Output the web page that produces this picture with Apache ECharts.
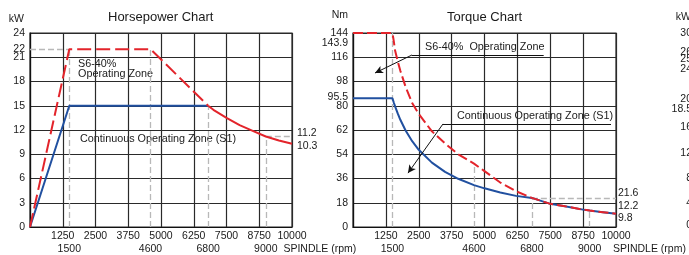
<!DOCTYPE html>
<html>
<head>
<meta charset="utf-8">
<script src="https://cdn.jsdelivr.net/npm/echarts@6/dist/echarts.min.js"></script>
<style>
  html, body { margin: 0; padding: 0; background: #fff; }
  #chart { width: 689px; height: 255px; }
</style>
</head>
<body>
<div id="chart"></div>
<script>
// 转速刻度
const rpmTicks = [1250, 2500, 3750, 5000, 6250, 7500, 8750, 10000];
const rpmMarks = [1500, 4600, 6800, 9000];

// 功率图 (kW)
const hpS6Dashed = [[0, 0], [1500, 22], [4600, 22], [6800, 15]];
const hpS6Solid = [[6800, 15], [7000, 14.5], [7500, 13.5], [8000, 12.6], [8500, 11.9], [9000, 11.2], [9500, 10.7], [10000, 10.3]];
const hpS1 = [[0, 0], [1500, 15], [6800, 15]];

// 扭矩图 (Nm)
const tqS6 = [[0, 144], [1500, 144], [1550, 138], [1600, 131], [1700, 123], [1800, 116], [2000, 104], [2250, 92], [2500, 84],
  [3000, 71], [3500, 62], [4000, 54], [4600, 47], [5000, 41.5], [5600, 33], [6200, 26.5], [6800, 21.6],
  [7500, 17.2], [8000, 15.6], [8750, 12.9], [9000, 12.2], [9500, 11], [10000, 9.8]];
const tqS1 = [[0, 95.5], [1500, 95.5], [1550, 92.4], [1600, 89.5], [1700, 84.3], [1800, 79.6], [2000, 71.6], [2250, 63.7],
  [2500, 57.3], [3000, 47.8], [3500, 40.9], [4000, 35.8], [4600, 31.1], [5000, 28.7], [5600, 25.6], [6200, 23.1],
  [6800, 21.6], [7500, 17.2], [8000, 15.6], [8750, 12.9], [9000, 12.2], [9500, 11], [10000, 9.8]];
// 扭矩图纵轴上印的刻度文字
const tqTickLabels = ["0", "18", "36", "54", "62", "80", "98", "116", "144"];

// 右侧被裁掉的第三张图的纵轴刻度
const thirdTickValues = [0.3, 4, 8.1, 12.2, 16.5, 19.5, 21.1, 26.1, 27.7, 28.9, 32];
const thirdTickLabels = ["0", "4", "8", "12", "16", "18.5", "20", "24", "25", "26", "30"];

const FONT = "'Liberation Sans', Arial, sans-serif";
const RED = "#e3242b";
const BLUE = "#2150a0";
const GUIDE = { color: "#b8b8b8", type: [6, 3], width: 1.3 };
const GRIDLINE = { color: "#2a2a2a", width: 1.2 };
const txt = { color: "#1a1a1a", fontFamily: FONT, fontSize: 10.5 };
const NOTE_FONT = "10.8px " + FONT;

function mainX(gridIndex) {
  return {
    type: "value", gridIndex: gridIndex, min: 0, max: 10000, interval: 1250,
    axisLine: { show: true, lineStyle: { color: "#111", width: 1.2 } },
    axisTick: { show: false },
    splitLine: { show: true, lineStyle: GRIDLINE },
    axisLabel: Object.assign({ margin: 4, formatter: (v) => (v === 0 ? "" : String(v)) }, txt),
  };
}
function markX(gridIndex, nameGap) {
  return {
    type: "value", gridIndex: gridIndex, min: 0, max: 10000, position: "bottom", offset: 13,
    axisLine: { show: false }, axisTick: { show: false }, splitLine: { show: false },
    axisLabel: Object.assign({ margin: 4, customValues: rpmMarks, formatter: (v) => String(v) }, txt),
    name: "SPINDLE (rpm)", nameLocation: "end", nameGap: nameGap,
    nameTextStyle: Object.assign({ align: "left", verticalAlign: "top", padding: [4, 0, 0, 0] }, txt),
  };
}
function sideLabel(coord, text, pos, offset) {
  return { coord: coord, name: text, label: { position: pos, offset: offset } };
}
function guide(a, b) {
  return [{ coord: a }, { coord: b }];
}
function note(x, y, text) {
  return { type: "text", x: x, y: y, style: { text: text, fill: "#1a1a1a", font: NOTE_FONT, verticalAlign: "middle" } };
}

const option = {
  animation: false,
  backgroundColor: "#fff",
  title: [
    { text: "Horsepower Chart", left: 108, top: 11, padding: 0, textStyle: { color: "#1a1a1a", fontFamily: FONT, fontSize: 13, fontWeight: "normal" } },
    { text: "Torque Chart", left: 447, top: 11, padding: 0, textStyle: { color: "#1a1a1a", fontFamily: FONT, fontSize: 13, fontWeight: "normal" } },
  ],
  grid: [
    { left: 30, top: 33, width: 262, height: 194, show: true, borderColor: "#2a2a2a", borderWidth: 1.2 },
    { left: 353, top: 33, width: 263, height: 194, show: true, borderColor: "#2a2a2a", borderWidth: 1.2 },
    { left: 697, top: 33, width: 262, height: 194, show: true, borderColor: "#2a2a2a", borderWidth: 1.2 },
  ],
  xAxis: [mainX(0), markX(0, -11), mainX(1), markX(1, -3), mainX(2)],
  yAxis: [
    {
      type: "value", gridIndex: 0, min: 0, max: 24, interval: 3,
      axisLine: { show: true, lineStyle: { color: "#111", width: 1.2 } }, axisTick: { show: false },
      splitLine: { show: true, lineStyle: GRIDLINE },
      axisLabel: Object.assign({ margin: 5 }, txt),
      name: "kW", nameLocation: "end", nameGap: 8,
      nameTextStyle: Object.assign({ align: "right", verticalAlign: "bottom", padding: [0, 6, 0, 0] }, txt),
    },
    {
      type: "value", gridIndex: 1, min: 0, max: 144, interval: 18,
      axisLine: { show: true, lineStyle: { color: "#111", width: 1.2 } }, axisTick: { show: false },
      splitLine: { show: true, lineStyle: GRIDLINE },
      axisLabel: Object.assign({ margin: 5, formatter: (v) => tqTickLabels[Math.round(v / 18)] }, txt),
      name: "Nm", nameLocation: "end", nameGap: 12,
      nameTextStyle: Object.assign({ align: "right", verticalAlign: "bottom", padding: [0, 5, 0, 0] }, txt),
    },
    {
      type: "value", gridIndex: 2, min: 0, max: 32,
      axisLine: { show: true, lineStyle: { color: "#111", width: 1.2 } }, axisTick: { show: false },
      splitLine: { show: false },
      axisLabel: Object.assign({ margin: 5, customValues: thirdTickValues,
        formatter: (v) => thirdTickLabels[thirdTickValues.indexOf(v)] }, txt),
      name: "kW", nameLocation: "end", nameGap: 10,
      nameTextStyle: Object.assign({ align: "right", verticalAlign: "bottom", padding: [0, 6, 0, 0] }, txt),
    },
  ],
  graphic: [
    note(78, 64, "S6-40%"),
    note(78, 74, "Operating Zone"),
    note(80, 139, "Continuous Operating Zone (S1)"),
    note(425, 47, "S6-40%  Operating Zone"),
    note(457, 116, "Continuous Operating Zone (S1)"),
  ],
  series: [
    {
      name: "hpS1", type: "line", xAxisIndex: 0, yAxisIndex: 0, data: hpS1, symbol: "none", z: 3,
      lineStyle: { color: BLUE, width: 2 },
      markLine: {
        silent: true, symbol: ["none", "none"], label: { show: false }, lineStyle: GUIDE, z: 1,
        data: [
          guide([0, 22], [1500, 22]), guide([1500, 0], [1500, 22]), guide([4600, 0], [4600, 22]),
          guide([6800, 0], [6800, 15]), guide([9000, 0], [9000, 11.2]), guide([9000, 11.2], [10000, 11.2]),
        ],
      },
      markPoint: {
        silent: true, symbol: "circle", symbolSize: 0,
        label: Object.assign({ show: true, formatter: "{b}", distance: 5 }, txt),
        data: [
          sideLabel([0, 22], "22", "left", [0, 0]),
          sideLabel([10000, 11.2], "11.2", "right", [0, -3.5]),
          sideLabel([10000, 10.3], "10.3", "right", [0, 2.5]),
        ],
      },
    },
    { name: "hpS6Dashed", type: "line", xAxisIndex: 0, yAxisIndex: 0, data: hpS6Dashed, symbol: "none", z: 4,
      lineStyle: { color: RED, width: 2, type: [14, 5] } },
    { name: "hpS6Solid", type: "line", xAxisIndex: 0, yAxisIndex: 0, data: hpS6Solid, symbol: "none", z: 4,
      lineStyle: { color: RED, width: 2 } },
    {
      name: "tqS1", type: "line", xAxisIndex: 2, yAxisIndex: 1, data: tqS1, symbol: "none", z: 3,
      lineStyle: { color: BLUE, width: 2 },
      markLine: {
        silent: true, symbol: ["none", "none"], label: { show: false }, lineStyle: GUIDE, z: 1,
        data: [
          guide([1500, 0], [1500, 144]), guide([4600, 0], [4600, 46]), guide([6800, 0], [6800, 21.6]),
          guide([6800, 21.6], [10000, 21.6]), guide([9000, 0], [9000, 12.2]),
        ],
      },
      markPoint: {
        silent: true, symbol: "circle", symbolSize: 0,
        label: Object.assign({ show: true, formatter: "{b}", distance: 5 }, txt),
        data: [
          sideLabel([0, 143.9], "143.9", "left", [0, 10]),
          sideLabel([0, 95.5], "95.5", "left", [0, -1]),
          sideLabel([10000, 21.6], "21.6", "right", [-3, -5]),
          sideLabel([10000, 12.2], "12.2", "right", [-3, -4.5]),
          sideLabel([10000, 9.8], "9.8", "right", [-3, 4]),
        ],
      },
    },
    {
      name: "tqS6", type: "line", xAxisIndex: 2, yAxisIndex: 1, data: tqS6, symbol: "none", z: 4,
      lineStyle: { color: RED, width: 2, type: [10, 4] },
      markLine: {
        silent: true, symbol: ["none", "none"], symbolSize: [6, 8], label: { show: false },
        lineStyle: { color: "#111", width: 1, type: "solid" },
        data: [
          [{ coord: [836, 114.3], symbol: "arrow" }, { coord: [2243, 127.7] }],
          guide([2243, 127.7], [7250, 127.7]),
          [{ coord: [2091, 40], symbol: "arrow" }, { coord: [3422, 76.5] }],
          guide([3422, 76.5], [9810, 76.5]),
        ],
      },
    },
    { name: "third", type: "line", xAxisIndex: 4, yAxisIndex: 2, data: [], symbol: "none" },
  ],
};

const chart = echarts.init(document.getElementById("chart"));
chart.setOption(option);
</script>
</body>
</html>
